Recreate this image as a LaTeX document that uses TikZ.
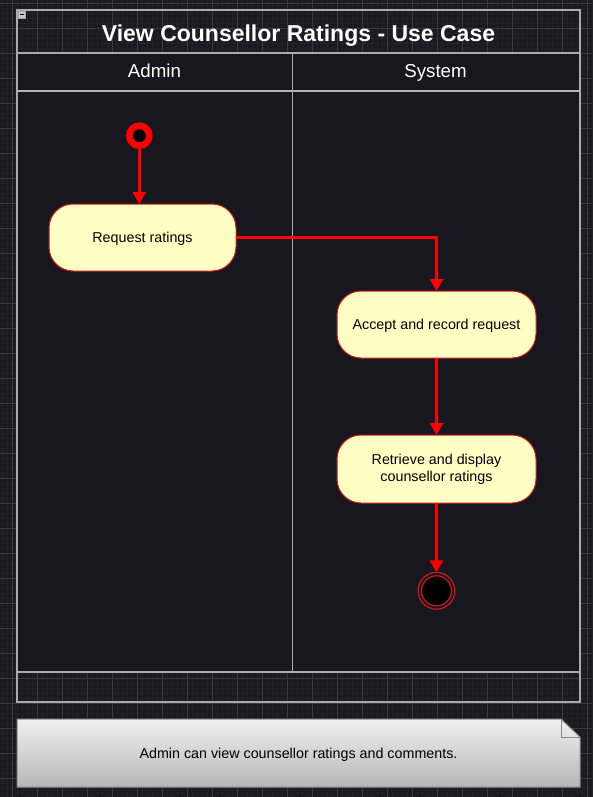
\documentclass[tikz,border=0pt]{standalone}
\usepackage{fontspec}
\setmainfont{Liberation Sans}
\usetikzlibrary{arrows.meta}

\definecolor{canvas}{HTML}{1B1A21}
\definecolor{gridfine}{HTML}{222128}
\definecolor{gridbold}{HTML}{3A3940}
\definecolor{poolfill}{HTML}{18161E}
\definecolor{poolline}{HTML}{ABABAB}
\definecolor{actfill}{HTML}{FFFFC3}
\definecolor{actline}{HTML}{D01818}
\definecolor{flowred}{HTML}{FF0000}
\definecolor{notetop}{HTML}{F0F0F0}
\definecolor{notebot}{HTML}{B6B6B6}
\definecolor{noteline}{HTML}{8A8A8A}

\begin{document}
\begin{tikzpicture}[x=1pt,y=-1pt,
  gridminor/.style={draw=gridfine,line width=0.6pt},
  gridmajor/.style={draw=gridbold,line width=0.8pt},
  frameline/.style={draw=poolline,line width=1.2pt},
  activity/.style={rectangle,rounded corners=24pt,draw=actline,line width=1pt,
    fill=actfill,inner sep=0pt,outer sep=0pt,align=center,text=black,
    font=\fontsize{14.3}{17.2}\selectfont},
  flow/.style={draw=flowred,line width=2.8pt,
    -{Triangle[length=12pt,width=13pt]}},
  lanetitle/.style={text=white,font=\fontsize{18.7}{22}\selectfont,anchor=base},
]
\useasboundingbox (0,0) rectangle (592,797);

% canvas with its grid
\fill[canvas] (0,0) rectangle (592,797);
\foreach \x in {2,7,...,592} \draw[gridminor] (\x,0) -- (\x,797);
\foreach \y in {3.3,8.3,...,797} \draw[gridminor] (0,\y) -- (592,\y);
\foreach \x in {12,37,...,592} \draw[gridmajor] (\x,0) -- (\x,797);
\foreach \y in {3.3,28.3,...,797} \draw[gridmajor] (0,\y) -- (592,\y);

% swimlane pool
\fill[poolfill] (17,53) rectangle (580,672);
\draw[frameline] (17,10) rectangle (580,702);
\draw[frameline] (17,53) -- (580,53);
\draw[draw=poolline!90!white,line width=2pt] (17,91) -- (580,91);
\draw[frameline] (17,672) -- (580,672);
\draw[draw=poolline,line width=1pt] (292.5,53) -- (292.5,672);

% collapse button
\draw[fill=gray!45,draw=gray!70,line width=0.6pt] (18.6,11.6) rectangle (25.4,18);
\draw[black,line width=0.9pt] (20,14.8) -- (24,14.8);

% titles
\node[text=white,anchor=base,font=\fontsize{23}{27}\selectfont\bfseries]
  (title) at (298.5,42) {View Counsellor Ratings - Use Case};
\node[lanetitle] (laneA) at (154.5,78) {Admin};
\node[lanetitle] (laneS) at (435.5,78) {System};

% activity nodes
\node[circle,draw=flowred,line width=6.6pt,fill=black,minimum size=20pt,
  inner sep=0pt] (start) at (139.3,135.7) {};
\node[activity,minimum width=187pt,minimum height=67pt,text height=10.3pt,
  text depth=0pt] (req) at (142.5,237.5) {Request ratings};
\node[activity,minimum width=199pt,minimum height=67pt,text height=10.3pt,
  text depth=0pt] (acc) at (436.5,324.5) {Accept and record request};
\node[activity,minimum width=199pt,minimum height=68pt]
  (ret) at (436.5,469) {Retrieve and display\\counsellor ratings};
\node[circle,draw=actline,line width=1.2pt,fill=black,minimum size=30pt,
  inner sep=0pt,outer sep=3.4pt] (finish) at (436.5,590.8) {};
\draw[draw=actline,line width=1.2pt] (finish.center) circle (18.4pt);

% control flow
\draw[flow] (start) -- (start |- req.north);
\draw[flow] (req.east) -| (acc.north);
\draw[flow] (acc) -- (ret);
\draw[flow] (ret) -- (finish);

% note
\path[top color=notetop,bottom color=notebot,draw=noteline,line width=1pt]
  (17,719) -- (561,719) -- (580,737) -- (580,787) -- (17,787) -- cycle;
\draw[draw=noteline,line width=1pt] (561,719) -- (561,737) -- (580,737);
\node[text=black,font=\fontsize{14.3}{17.2}\selectfont,text height=10.3pt,
  text depth=0pt] (note) at (298.5,753) {Admin can view counsellor ratings and comments.};
\end{tikzpicture}
\end{document}
